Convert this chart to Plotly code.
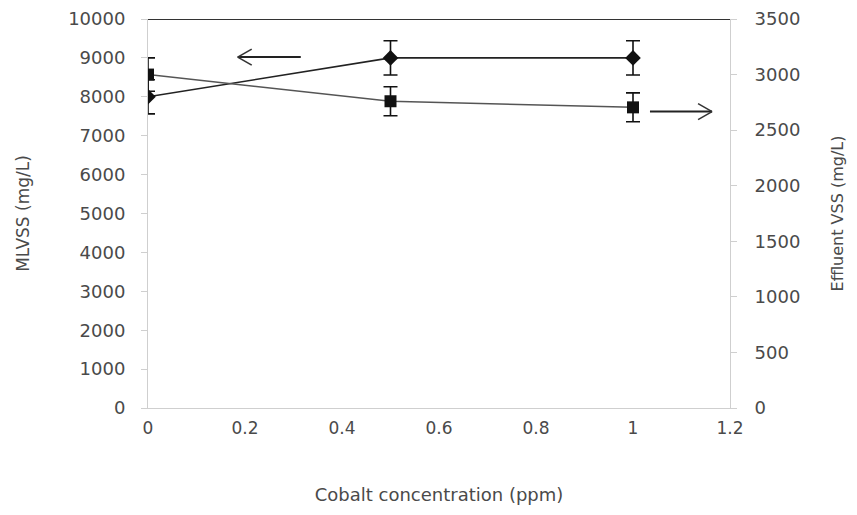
import plotly.graph_objects as go

cobalt_ppm = [0, 0.5, 1]
mlvss = [8000, 9000, 9000]
mlvss_err = [440, 440, 440]
effluent_vss = [3000, 2760, 2705]
effluent_err = [150, 130, 130]

x_ticks = [0, 0.2, 0.4, 0.6, 0.8, 1, 1.2]
x_tick_labels = ["0", "0.2", "0.4", "0.6", "0.8", "1", "1.2"]
left_ticks = list(range(0, 10001, 1000))
left_tick_labels = [str(v) for v in left_ticks]
right_ticks = list(range(0, 3501, 500))
right_tick_labels = [str(v) for v in right_ticks]

FONT = "DejaVu Sans"
TXT = "#4a4a4a"
AX = "#cfcfcf"

fig = go.Figure()
fig.add_trace(go.Scatter(
    x=cobalt_ppm, y=mlvss, mode="lines+markers", name="MLVSS",
    line=dict(color="#222222", width=1.6),
    marker=dict(symbol="diamond", size=12, color="#111111"),
    error_y=dict(type="data", array=mlvss_err, visible=True, color="#111111", thickness=1.6, width=7),
    yaxis="y", showlegend=False,
))
fig.add_trace(go.Scatter(
    x=cobalt_ppm, y=effluent_vss, mode="lines+markers", name="Effluent VSS",
    line=dict(color="#555555", width=1.5),
    marker=dict(symbol="square", size=12, color="#111111"),
    error_y=dict(type="data", array=effluent_err, visible=True, color="#111111", thickness=1.6, width=7),
    yaxis="y2", showlegend=False,
))

# top border line at 10000
fig.add_shape(type="line", xref="paper", yref="y", x0=0, x1=1, y0=10000, y1=10000,
              line=dict(color="#333333", width=2))

def arrow(fig, xa, ya, xtip, direction):
    fig.add_shape(type="line", xref="x", yref="y", x0=xa, x1=xtip, y0=ya, y1=ya,
                  line=dict(color="#222222", width=2))
    s = -1 if direction == "left" else 1
    for dy in (-8, 8):
        fig.add_shape(type="line", xref="x", yref="y", xsizemode="pixel", ysizemode="pixel",
                      xanchor=xtip, yanchor=ya, x0=0, x1=-s * 14, y0=0, y1=dy,
                      line=dict(color="#333333", width=1.6))

arrow(fig, 0.315, 9020, 0.185, "left")
arrow(fig, 1.035, 7620, 1.163, "right")

fig.update_layout(
    width=849, height=507,
    margin=dict(l=140, r=127, t=11, b=107),
    paper_bgcolor="white", plot_bgcolor="white",
    font=dict(family=FONT, size=17, color=TXT),
    xaxis=dict(
        range=[0, 1.2], tickvals=x_ticks, ticktext=x_tick_labels, automargin=False,
        showgrid=False, zeroline=False, showline=True, linecolor=AX, linewidth=1,
        ticks="", tickfont=dict(size=17, color=TXT), ticklabelstandoff=5,
        title=dict(text="Cobalt concentration (ppm)", font=dict(size=18, color=TXT), standoff=50),
    ),
    yaxis=dict(
        range=[0, 10000], tickvals=left_ticks, ticktext=left_tick_labels, automargin=False,
        showgrid=False, zeroline=False,
        showline=True, linecolor=AX, linewidth=1, ticks="outside", ticklen=6, tickcolor=AX,
        tickfont=dict(size=18, color=TXT), ticklabelstandoff=12,
        title=dict(text="MLVSS (mg/L)", font=dict(size=17, color=TXT), standoff=34),
    ),
    yaxis2=dict(
        range=[0, 3500], tickvals=right_ticks, ticktext=right_tick_labels, automargin=False,
        overlaying="y", side="right",
        showgrid=False, zeroline=False, showline=True, linecolor=AX, linewidth=1,
        ticks="outside", ticklen=6, tickcolor=AX, tickfont=dict(size=18, color=TXT),
        ticklabelstandoff=14,
        title=dict(text="Effluent VSS (mg/L)", font=dict(size=16, color=TXT), standoff=32),
    ),
)

fig.write_html("out.html")
